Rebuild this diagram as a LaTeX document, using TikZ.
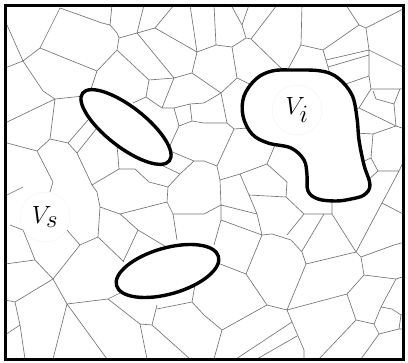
\documentclass[tikz,border=0pt]{standalone}
\begin{document}
\begin{tikzpicture}[x=1pt,y=-1pt,
  mesh/.style={draw=black!55,line width=0.65pt,line join=round},
  region/.style={draw=black,line width=3.4pt,fill=white},
  lbl/.style={circle,fill=white,draw=black!5,minimum size=50pt,inner sep=0pt,font=\fontsize{34}{40}\selectfont}]
\useasboundingbox (0,0) rectangle (408,363);
% ---------- Voronoi mesh ----------
\draw[mesh]
 (60,8)--(40,48)
 (60,8)--(102,23)--(110,25)--(117,33)--(119,38)
 (112,5)--(110,25)
 (7,25)--(23,61)--(5,68)
 (23,61)--(40,48)--(97,71)--(117,50)
 (97,71)--(90,92)
 (23,61)--(43,91)--(55,99)--(84,96)
 (55,99)--(5,123)
 (119,38)--(137,33)--(155,28)--(174,5)
 (155,28)--(197,52)
 (137,33)--(174,78)
 (119,38)--(117,50)--(149,80)
 (144,5)--(137,33)
 (190,5)--(197,52)--(216,45)
 (197,52)--(192,73)--(174,78)--(149,80)--(146,97)--(133,103)
 (146,97)--(162,108)--(174,78)
 (162,108)--(174,108)--(190,104)--(204,103)--(221,93)
 (190,104)--(192,121)--(204,123)--(227,123)
 (192,121)--(179,126)--(174,108)
 (179,126)--(168,150)
 (192,73)--(221,93)--(237,78)
 (221,93)--(227,123)--(234,129)--(248,128)
 (234,129)--(217,166)
 (214,5)--(216,45)--(232,47)
 (231,5)--(242,25)--(249,5)
 (242,25)--(246,38)--(251,39)--(277,5)
 (251,39)--(286,73)--(292,76)
 (246,38)--(232,47)--(237,78)--(258,88)
 (286,73)--(301,45)--(302,5)
 (301,45)--(323,50)
 (346,5)--(359,25)--(366,28)--(405,8)
 (359,25)--(323,50)--(326,60)--(328,67)--(331,78)
 (326,60)--(369,50)
 (328,67)--(369,55)
 (366,28)--(369,50)--(369,55)--(369,76)--(371,89)
 (369,50)--(405,68)
 (369,76)--(340,86)
 (371,89)--(400,89)--(405,88)
 (371,89)--(359,108)--(396,126)
 (359,108)--(352,110)
 (373,91)--(376,99)--(394,104)--(400,89)
 (394,104)--(396,126)--(405,129)
 (396,126)--(373,134)--(354,133)
 (373,134)--(371,158)--(360,163)
 (371,158)--(378,171)--(399,171)--(405,158)
 (378,171)--(366,182)
 (399,171)--(382,203)
 (7,143)--(37,151)--(50,139)--(55,99)
 (50,139)--(68,143)--(88,120)
 (77,153)--(97,128)
 (68,143)--(77,153)--(92,185)
 (37,151)--(53,182)--(50,192)
 (117,145)--(119,169)--(135,169)--(149,182)
 (119,169)--(92,185)--(97,192)--(100,207)
 (170,151)--(194,161)--(204,161)--(217,166)
 (194,161)--(180,174)
 (157,163)--(180,174)
 (149,182)--(168,187)--(180,174)
 (168,187)--(167,202)
 (100,207)--(120,214)--(167,202)--(173,214)
 (173,214)--(204,214)--(221,205)
 (173,214)--(177,240)
 (217,166)--(220,180)--(221,205)--(221,220)
 (221,205)--(257,214)
 (221,220)--(262,235)
 (221,220)--(214,245)
 (220,180)--(240,174)--(267,164)--(275,145)
 (267,164)--(287,182)--(286,197)
 (240,174)--(249,195)--(286,197)
 (249,195)--(257,214)--(262,235)
 (286,197)--(304,214)--(324,214)--(332,214)--(332,198)
 (304,214)--(287,235)
 (324,214)--(302,251)
 (262,235)--(272,234)--(291,240)--(302,252)--(306,264)--(287,310)--(267,305)--(246,274)--(262,235)
 (332,214)--(356,252)
 (306,264)--(356,252)--(361,257)--(394,245)--(405,242)
 (356,252)--(382,203)--(405,215)
 (361,257)--(364,275)--(396,279)--(405,276)
 (364,275)--(347,294)--(287,310)
 (347,294)--(356,320)--(374,324)--(381,307)--(396,279)
 (381,307)--(392,309)--(401,315)--(399,329)--(379,334)--(374,324)
 (399,329)--(405,329)
 (401,315)--(405,313)
 (379,334)--(361,359)
 (356,320)--(319,359)
 (287,310)--(292,322)--(304,350)--(304,359)
 (292,322)--(236,359)
 (297,336)--(257,359)
 (267,305)--(222,330)
 (204,315)--(222,330)--(214,359)
 (246,274)--(215,262)
 (100,207)--(98,237)--(80,245)--(67,230)
 (98,237)--(124,262)
 (120,214)--(138,230)--(123,262)
 (138,230)--(168,248)
 (10,225)--(23,230)--(35,260)
 (5,264)--(35,260)--(53,279)--(80,245)
 (53,279)--(67,304)--(108,299)--(122,292)
 (108,299)--(140,324)--(152,325)--(157,305)
 (140,324)--(147,359)
 (67,304)--(53,359)
 (67,304)--(107,359)
 (53,279)--(15,302)--(5,300)
 (15,302)--(20,325)--(5,335)
 (20,325)--(25,359)
 (152,325)--(190,359)
 (157,309)--(192,302)--(204,315)
 (192,302)--(195,285)
 (7,195)--(23,187);
% ---------- regions ----------
\path[region] (126,127) ellipse [x radius=55pt, y radius=20pt, rotate=-38];
\path[region] (167.5,271) ellipse [x radius=53pt, y radius=23pt, rotate=16];
\path[region] plot[smooth cycle, tension=0.6] coordinates {
 (292,70) (321,71) (338,78) (352,95) (357,118) (359,140) (364,165) (370,185)
 (364,195) (351,199) (336,201) (318,199) (308,191) (307,175) (304,160)
 (291,148) (268,143) (252,134) (243,116) (244,96) (256,79) (272,71)};
% ---------- labels ----------
\node[lbl] (vi) at (297,110) {$V_i$};
\node[lbl] (vs) at (45,217) {$V_s$};
% ---------- frame ----------
\draw[line width=3.3pt] (5.5,5.2) rectangle (403.5,359.2);
\end{tikzpicture}
\end{document}
